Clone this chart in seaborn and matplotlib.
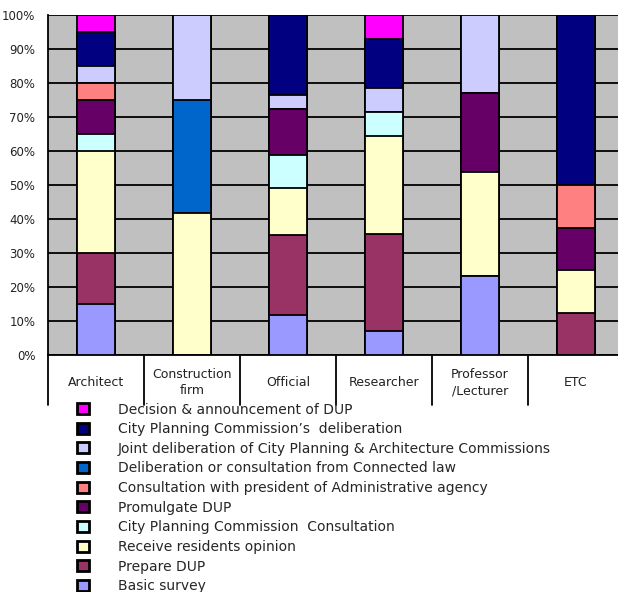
import matplotlib
matplotlib.use("Agg")
import matplotlib.pyplot as plt
import matplotlib.transforms as mtransforms
from matplotlib.patches import Patch
import numpy as np
import pandas as pd
import seaborn as sns

# Respondent groups (x categories)
categories = ["Architect", "Construction\nfirm", "Official", "Researcher",
              "Professor\n/Lecturer", "ETC"]

# Stages of the DUP procedure, bottom of the stack first
stages = [
    "Basic survey",
    "Prepare DUP",
    "Receive residents opinion",
    "City Planning Commission  Consultation",
    "Promulgate DUP",
    "Consultation with president of Administrative agency",
    "Deliberation or consultation from Connected law",
    "Joint deliberation of City Planning & Architecture Commissions",
    "City Planning Commission\u2019s  deliberation",
    "Decision & announcement of DUP",
]

# Share of answers (%) per stage, one value per category
basic_survey      = [15.0,  0.0, 11.8,  7.1, 23.1,  0.0]
prepare_dup       = [15.0,  0.0, 23.5, 28.6,  0.0, 12.5]
residents_opinion = [30.0, 41.7, 13.7, 28.6, 30.8, 12.5]
cpc_consultation  = [ 5.0,  0.0,  9.8,  7.1,  0.0,  0.0]
promulgate_dup    = [10.0,  0.0, 13.7,  0.0, 23.1, 12.5]
admin_agency      = [ 5.0,  0.0,  0.0,  0.0,  0.0, 12.5]
connected_law     = [ 0.0, 33.3,  0.0,  0.0,  0.0,  0.0]
joint_deliberation= [ 5.0, 25.0,  3.9,  7.1, 23.0,  0.0]
cpc_deliberation  = [10.0,  0.0, 23.6, 14.3,  0.0, 50.0]
decision_dup      = [ 5.0,  0.0,  0.0,  7.2,  0.0,  0.0]

series = [basic_survey, prepare_dup, residents_opinion, cpc_consultation,
          promulgate_dup, admin_agency, connected_law, joint_deliberation,
          cpc_deliberation, decision_dup]

colors = ["#9999FF", "#993366", "#FFFFCC", "#CCFFFF", "#660066",
          "#FF8080", "#0066CC", "#CCCCFF", "#000080", "#FF00FF"]

sns.set_theme(style="white")
plt.rcParams["font.family"] = ["DejaVu Sans"]

W, H = 618, 592
fig = plt.figure(figsize=(W / 100, H / 100), dpi=100)
left_px, right_px, top_px, bottom_px = 48, 624, 15, 355
ax = fig.add_axes([left_px / W, 1 - bottom_px / H,
                   (right_px - left_px) / W, (bottom_px - top_px) / H])
ax.set_facecolor("#C0C0C0")

# Long-form table with cumulative tops for the stacked bars
rows = []
for s_name, vals in zip(stages, series):
    for cat, v in zip(categories, vals):
        rows.append({"stage": s_name, "category": cat, "value": v})
df = pd.DataFrame(rows)
df["top"] = df.groupby("category", sort=False)["value"].cumsum()

# Draw from the top segment down so each lower stage overlays the ones above
for s_name, col in reversed(list(zip(stages, colors))):
    sub = df[df["stage"] == s_name]
    sns.barplot(data=sub, x="category", y="top", order=categories,
                color=col, width=0.39, edgecolor="black", linewidth=1.3,
                saturation=1, ax=ax, zorder=3, errorbar=None)

ax.set_xlim(-0.5, 5.5)
ax.set_ylim(0, 100)
ax.set_yticks(np.arange(0, 101, 10))
ax.set_yticklabels([f"{v}%" for v in range(0, 101, 10)], fontsize=8.5,
                   color="#222222")
ax.yaxis.grid(True, color="black", linewidth=1.3, zorder=0)
ax.set_axisbelow(True)
ax.tick_params(axis="y", length=0, pad=9)
ax.tick_params(axis="x", length=0, labelbottom=False)
ax.set_xlabel("")
ax.set_ylabel("")
for side in ["top", "right"]:
    ax.spines[side].set_visible(False)
ax.spines["left"].set_color("black")
ax.spines["left"].set_linewidth(1.3)
ax.spines["bottom"].set_color("black")
ax.spines["bottom"].set_linewidth(1.3)

# Category label band below the axis with vertical separators
trans = mtransforms.blended_transform_factory(ax.transData, ax.transAxes)
sep_depth = 50 / (bottom_px - top_px)
for b in np.arange(-0.5, 6.0, 1.0):
    ax.plot([b, b], [0, -sep_depth], color="black", lw=1.3,
            transform=trans, clip_on=False)
for i, cat in enumerate(categories):
    ax.text(i, -28 / (bottom_px - top_px), cat, transform=trans,
            ha="center", va="center", fontsize=9, color="#222222",
            linespacing=1.3)

# Legend below the chart, last stage on top
handles = [Patch(facecolor=c, edgecolor="black", linewidth=2, label=s)
           for s, c in zip(stages, colors)][::-1]
fig.legend(handles=handles, loc="upper left",
           bbox_to_anchor=(77 / W, 1 - 402.5 / H), frameon=False,
           fontsize=10, handlelength=0.85, handleheight=0.85,
           handletextpad=2.1, labelspacing=0.405, borderpad=0,
           borderaxespad=0)

fig.savefig("out.png", dpi=100)
